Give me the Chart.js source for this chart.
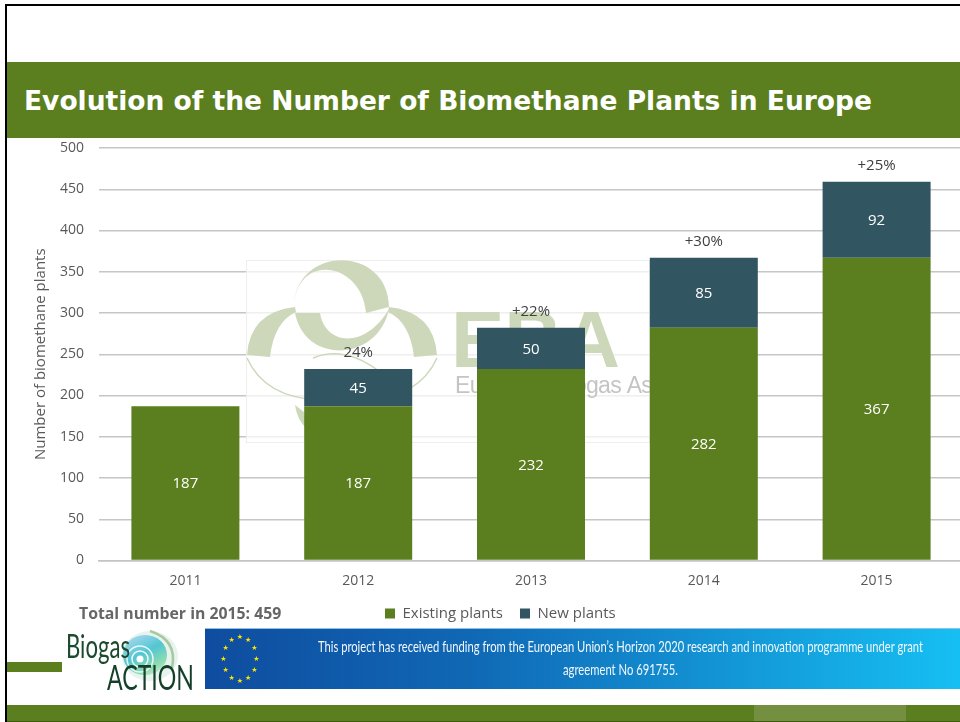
<!DOCTYPE html>
<html>
<head>
<meta charset="utf-8">
<title>Evolution of the Number of Biomethane Plants in Europe</title>
<script src="https://cdn.jsdelivr.net/npm/chart.js@4"></script>
<style>
html, body { margin: 0; padding: 0; background: #fff; overflow: hidden; width: 960px; height: 722px; }
.abs { position: absolute; }
#border-top { left: 5px; top: 4px; width: 955px; height: 2px; background: #000; }
#border-left { left: 5px; top: 4px; width: 2px; height: 718px; background: #000; }
#header { left: 5px; top: 62px; width: 955px; height: 76px; background: #5b7e1e; }
#title { left: 24px; top: 85px; font: bold 26.5px "DejaVu Sans"; color: #fff; white-space: nowrap; }
#total { left: 79px; top: 602px; font: bold 15.8px "Open Sans"; color: #666; white-space: nowrap; }
#foot { left: 5px; top: 705px; width: 955px; height: 17px; background: #5b7e1e; }
#foot-light { left: 754px; top: 705px; width: 152px; height: 17px; background: #748f40; }
#foot-line { left: 5px; top: 721px; width: 955px; height: 1px; background: #3c5a10; }
#side-bar { left: 5px; top: 662px; width: 57px; height: 10px; background: #5b7e1e; }
#chart { position: absolute; left: 0; top: 0; }
</style>
</head>
<body>
<div class="abs" id="border-top"></div>
<div class="abs" id="header"></div>
<div class="abs" id="title">Evolution of the Number of Biomethane Plants in Europe</div>
<canvas id="chart" width="963" height="637"></canvas>
<div class="abs" id="total">Total number in 2015: 459</div>
<svg class="abs" style="left:0;top:620px" width="960" height="80" viewBox="0 620 960 80">
  <defs>
    <linearGradient id="banner" x1="0" x2="1" y1="0" y2="0">
      <stop offset="0" stop-color="#0f4c9f"/>
      <stop offset="0.35" stop-color="#1068b5"/>
      <stop offset="1" stop-color="#16bff3"/>
    </linearGradient>
    <linearGradient id="swirl" x1="0.2" x2="0.8" y1="0" y2="1">
      <stop offset="0" stop-color="#a9d8ee"/>
      <stop offset="0.45" stop-color="#52c6d2"/>
      <stop offset="0.8" stop-color="#8fdcb0"/>
      <stop offset="1" stop-color="#c9eed6"/>
    </linearGradient>
  </defs>
  <ellipse cx="150" cy="656" rx="28" ry="25" fill="#e6f3ef"/>
  <ellipse cx="145" cy="655" rx="22" ry="20" fill="url(#swirl)"/>
  <path d="M150 631 Q178 640 172 668" fill="none" stroke="#a8c9a0" stroke-width="2.5"/>
  <circle cx="140" cy="659" r="13" fill="none" stroke="#e8f7f6" stroke-width="1.5"/>
  <circle cx="140" cy="659" r="8" fill="none" stroke="#f2fbfa" stroke-width="1.5"/>
  <circle cx="140" cy="659" r="3.5" fill="#ffffff"/>
  <text x="66" y="658" font-family="Lato" font-size="33" fill="#1b4a2c" textLength="64" lengthAdjust="spacingAndGlyphs">Biogas</text>
  <text x="107" y="690" font-family="Lato" font-size="35" fill="#143f28" textLength="87" lengthAdjust="spacingAndGlyphs">ACTION</text>
  <rect x="205" y="628" width="755" height="61" fill="url(#banner)"/>
  <rect x="205" y="628" width="755" height="1" fill="#8fc0e6"/>
  <g id="stars" fill="#ffe600" font-size="7" text-anchor="middle" font-family="DejaVu Sans"></g>
  <text x="318" y="652" font-family="Lato" font-size="16" fill="#f2f8fd" textLength="605" lengthAdjust="spacingAndGlyphs">This project has received funding from the European Union’s Horizon 2020 research and innovation programme under grant</text>
  <text x="563" y="675" font-family="Lato" font-size="16" fill="#f2f8fd" textLength="115" lengthAdjust="spacingAndGlyphs">agreement No 691755.</text>
</svg>
<div class="abs" id="side-bar"></div>
<div class="abs" id="foot"></div>
<div class="abs" id="foot-light"></div>
<div class="abs" id="foot-line"></div>
<div class="abs" id="border-left"></div>
<script>
var years = ['2011', '2012', '2013', '2014', '2015'];
var existingPlants = [187, 187, 232, 282, 367];
var newPlants = [null, 45, 50, 85, 92];
var growthLabels = ['', '24%', '+22%', '+30%', '+25%'];
var yTicks = [0, 50, 100, 150, 200, 250, 300, 350, 400, 450, 500];

var GREEN = '#5b7e1e';
var SLATE = '#315561';
var WATERMARK = '#cdd8ba';

// EU flag stars
var starGroup = document.getElementById('stars');
for (var s = 0; s < 12; s++) {
    var a = s * Math.PI / 6;
    var star = document.createElementNS('http://www.w3.org/2000/svg', 'text');
    star.setAttribute('x', 240 + 16.5 * Math.sin(a));
    star.setAttribute('y', 661 - 22 * Math.cos(a));
    star.textContent = '★';
    starGroup.appendChild(star);
}

// left lobe of the logo, mirrored for the right one
function sideLobe(ctx, mirror) {
    function mx(x) { return mirror ? 684 - x : x; }
    ctx.beginPath();
    ctx.moveTo(mx(295), 307);
    ctx.quadraticCurveTo(mx(250), 312, mx(247), 355);
    ctx.lineTo(mx(270), 357);
    ctx.quadraticCurveTo(mx(274), 322, mx(296), 312);
    ctx.closePath();
    ctx.fill();
    ctx.beginPath();
    ctx.moveTo(mx(247), 358);
    ctx.quadraticCurveTo(mx(265), 398, mx(320), 400);
    ctx.stroke();
}

// faded EBA logo sits over the gridlines but behind the bars
var watermarkPlugin = {
    id: 'watermark',
    beforeDatasetsDraw: function (chart) {
        var ctx = chart.ctx;
        ctx.save();
        ctx.fillStyle = 'rgba(255,255,255,0.72)';
        ctx.fillRect(246, 260, 404, 183);
        ctx.strokeStyle = '#eeeeee';
        ctx.strokeRect(246.5, 260.5, 403, 182);
        ctx.beginPath();
        ctx.rect(246, 260, 404, 183);
        ctx.clip();
        ctx.fillStyle = WATERMARK;
        ctx.strokeStyle = WATERMARK;
        ctx.lineWidth = 1.5;
        sideLobe(ctx, false);
        sideLobe(ctx, true);
        // top lobe, upper crescent
        ctx.beginPath();
        ctx.moveTo(294, 305);
        ctx.bezierCurveTo(297, 245, 388, 245, 389, 307);
        ctx.lineTo(366, 313);
        ctx.bezierCurveTo(362, 262, 298, 252, 294, 305);
        ctx.fill();
        // top lobe, lower band
        ctx.beginPath();
        ctx.moveTo(295, 313);
        ctx.lineTo(320, 313);
        ctx.bezierCurveTo(325, 345, 365, 350, 389, 309);
        ctx.bezierCurveTo(378, 362, 305, 365, 295, 313);
        ctx.fill();
        // bottom lobe, mostly behind the bars
        ctx.beginPath();
        ctx.moveTo(313, 358);
        ctx.quadraticCurveTo(345, 345, 380, 372);
        ctx.stroke();
        ctx.beginPath();
        ctx.moveTo(295, 405);
        ctx.quadraticCurveTo(297, 420, 307, 429);
        ctx.lineTo(304, 412);
        ctx.closePath();
        ctx.fill();
        ctx.font = 'bold 80px "Liberation Sans"';
        ctx.textBaseline = 'alphabetic';
        ctx.fillText('EBA', 451, 367);
        ctx.fillStyle = '#c4c4c4';
        ctx.font = '23px "Liberation Sans"';
        ctx.letterSpacing = '-0.7px';
        ctx.fillText('European Biogas Association', 455, 393);
        ctx.restore();
    }
};

var barLabelPlugin = {
    id: 'barLabels',
    afterDatasetsDraw: function (chart) {
        var ctx = chart.ctx;
        ctx.save();
        ctx.textAlign = 'center';
        ctx.textBaseline = 'middle';
        ctx.font = '15px "Open Sans"';
        ctx.fillStyle = '#ffffff';
        chart.data.datasets.forEach(function (ds, d) {
            var meta = chart.getDatasetMeta(d);
            meta.data.forEach(function (bar, i) {
                if (ds.data[i] === null) return;
                ctx.fillText(ds.data[i], bar.x, (bar.y + bar.base) / 2 + 1);
            });
        });
        ctx.fillStyle = '#404040';
        var top = chart.getDatasetMeta(1);
        top.data.forEach(function (bar, i) {
            if (growthLabels[i]) ctx.fillText(growthLabels[i], bar.x, bar.y - 16);
        });
        ctx.restore();
    }
};

// legend is not centred on the canvas in the reference
var legendShift = {
    id: 'legendShift',
    afterLayout: function (chart) {
        chart.legend.left = 368;
    }
};

var myChart = new Chart(document.getElementById('chart'), {
    type: 'bar',
    data: {
        labels: years,
        datasets: [
            { label: 'Existing plants', data: existingPlants, backgroundColor: GREEN, stack: 'a', barPercentage: 0.625, categoryPercentage: 1 },
            { label: 'New plants', data: newPlants, backgroundColor: SLATE, stack: 'a', barPercentage: 0.625, categoryPercentage: 1 }
        ]
    },
    options: {
        responsive: false,
        animation: false,
        layout: { padding: { top: 148, bottom: 6 } },
        plugins: {
            title: { display: false },
            tooltip: { enabled: false },
            legend: {
                position: 'bottom',
                align: 'start',
                labels: {
                    boxWidth: 10,
                    boxHeight: 10,
                    padding: 17,
                    color: '#595959',
                    font: { family: 'Open Sans', size: 15 }
                }
            }
        },
        scales: {
            x: {
                stacked: true,
                grid: { display: false, drawTicks: false },
                border: { color: '#c4c4c4', width: 1.5 },
                ticks: { color: '#595959', font: { family: 'Open Sans', size: 14 }, padding: 12 },
                afterFit: function (scale) { scale.height = 28.5; }
            },
            y: {
                stacked: true,
                min: 0,
                max: 500,
                afterBuildTicks: function (scale) {
                    scale.ticks = yTicks.map(function (v) { return { value: v }; });
                },
                afterFit: function (scale) { scale.width = 99; },
                grid: { color: '#c6c6c6', lineWidth: 1.5, drawTicks: false },
                border: { display: false },
                ticks: { color: '#595959', font: { family: 'Open Sans', size: 14 }, padding: 15 },
                title: {
                    display: true,
                    text: 'Number of biomethane plants',
                    color: '#595959',
                    font: { family: 'Open Sans', size: 15 },
                    padding: { top: 32, bottom: 0 }
                }
            }
        }
    },
    plugins: [watermarkPlugin, barLabelPlugin, legendShift]
});
</script>
</body>
</html>
